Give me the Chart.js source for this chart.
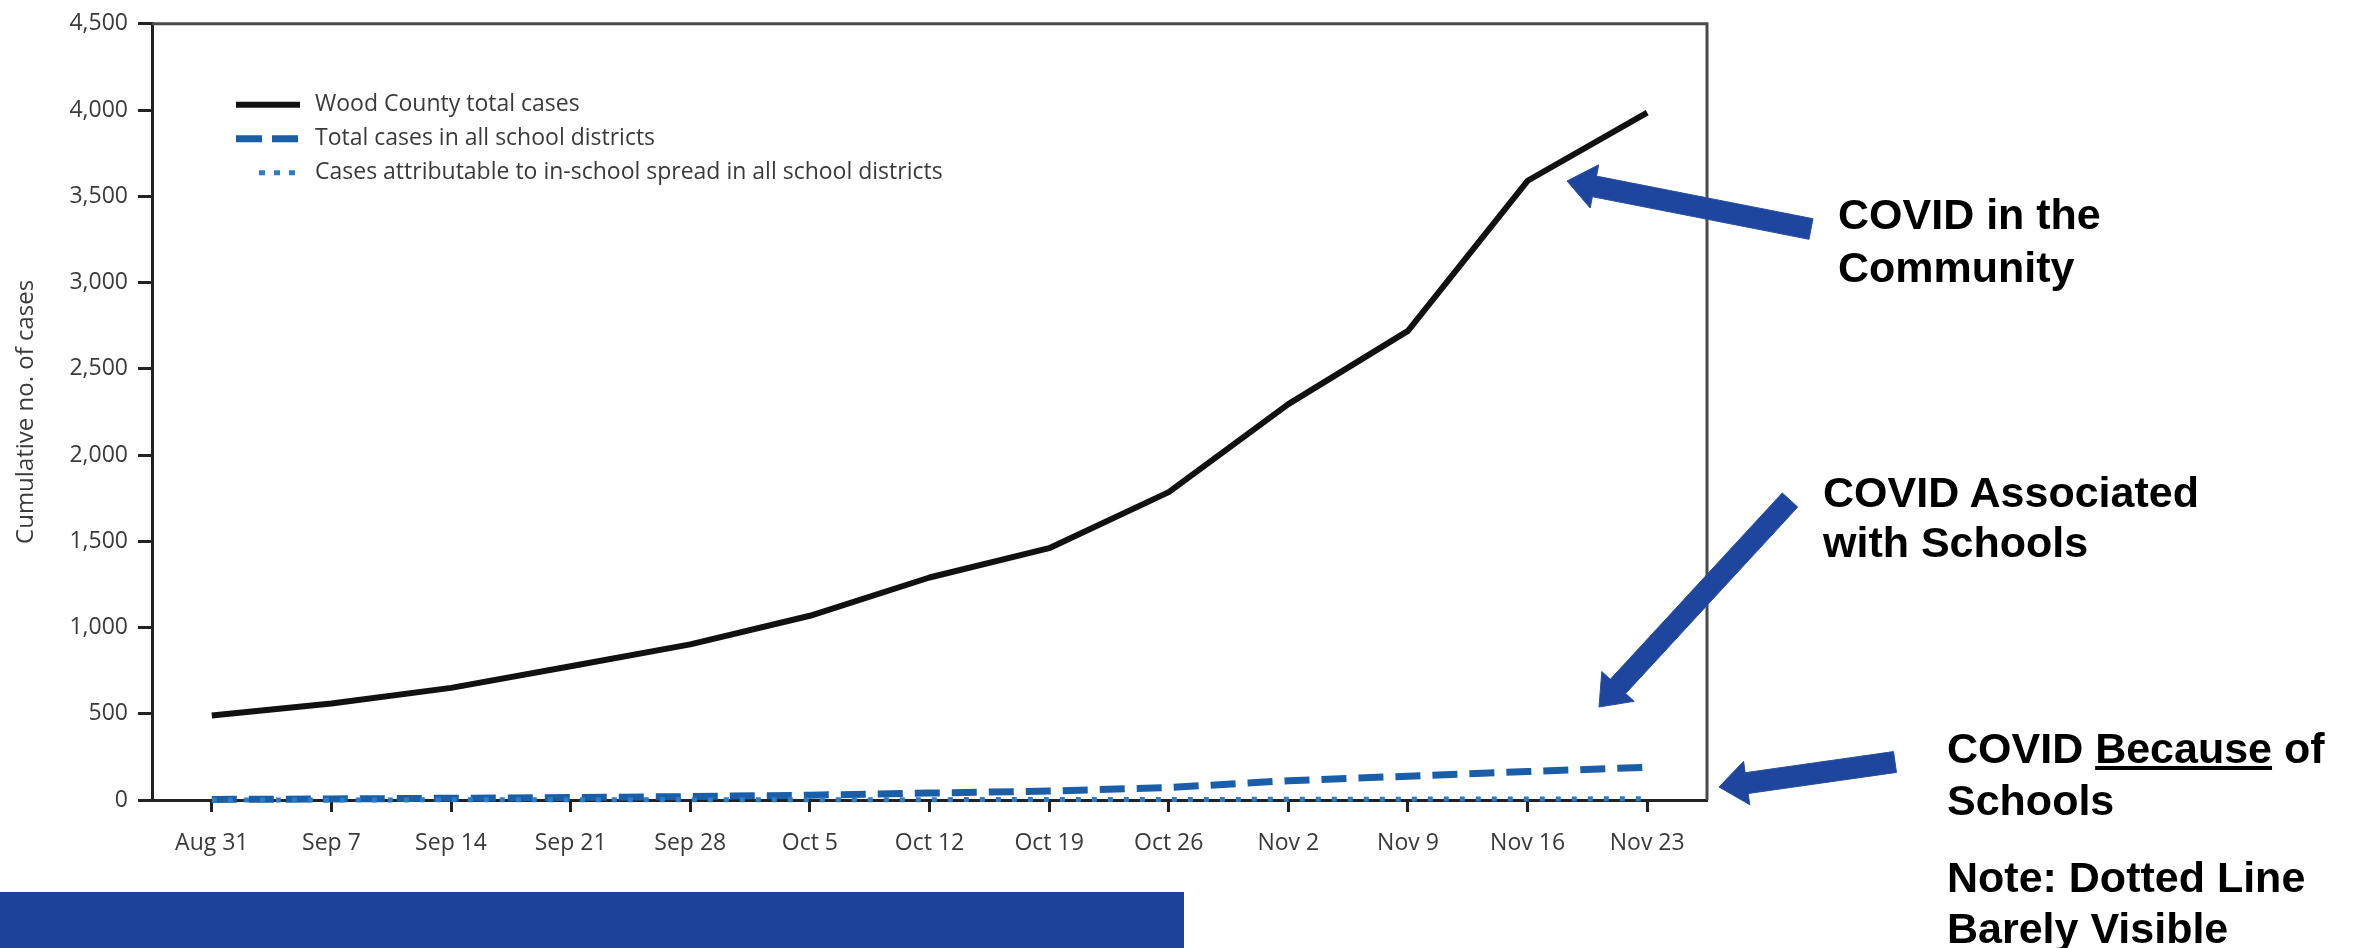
<!DOCTYPE html>
<html>
<head>
<meta charset="utf-8">
<title>Wood County cumulative cases</title>
<script src="https://cdn.jsdelivr.net/npm/chart.js@4.4.1/dist/chart.umd.min.js"></script>
<style>
  html, body { margin: 0; padding: 0; background: #fff; }
  #page { position: relative; width: 2362px; height: 948px; overflow: hidden; }
  #chartBox { position: absolute; left: 0; top: 0; width: 1760px; height: 948px; }
  #arrows { position: absolute; left: 0; top: 0; }
  .note { position: absolute; font-family: "Liberation Sans", Arial, sans-serif; font-weight: bold;
          font-size: 43px; line-height: 50px; color: #000; white-space: nowrap; }
  #banner { position: absolute; left: 0; top: 892px; width: 1184px; height: 56px; background: #1c4399; }
</style>
</head>
<body>
<div id="page">
  <div id="chartBox"><canvas id="chart"></canvas></div>
  <svg id="arrows" width="2362" height="948"></svg>
  <div class="note" style="left:1838px; top:189px;">COVID in the</div>
  <div class="note" style="left:1838px; top:242px;">Community</div>
  <div class="note" style="left:1823px; top:467px;">COVID Associated</div>
  <div class="note" style="left:1823px; top:517px;">with Schools</div>
  <div class="note" style="left:1947px; top:723px;">COVID <u>Because</u> of</div>
  <div class="note" style="left:1947px; top:775px;">Schools</div>
  <div class="note" style="left:1947px; top:852px;">Note: Dotted Line</div>
  <div class="note" style="left:1947px; top:903px;">Barely Visible</div>
  <div id="banner"></div>
</div>
<script>
// weekly dates (x axis)
const weeks = ['Aug 31', 'Sep 7', 'Sep 14', 'Sep 21', 'Sep 28', 'Oct 5', 'Oct 12',
               'Oct 19', 'Oct 26', 'Nov 2', 'Nov 9', 'Nov 16', 'Nov 23'];

// cumulative cases
const countyTotal = [490, 560, 650, 775, 902, 1068, 1290, 1460, 1785, 2295, 2720, 3590, 3985];
const schoolTotal = [3, 6, 10, 14, 20, 28, 40, 52, 72, 112, 138, 165, 190];
const inSchoolSpread = [0, 0, 1, 1, 1, 2, 2, 3, 3, 4, 5, 6, 7];

const seriesNames = ['Wood County total cases',
                     'Total cases in all school districts',
                     'Cases attributable to in-school spread in all school districts'];

const textGray = '#3a3a3a';
const tickFont = { family: '"Open Sans", sans-serif', size: 23 };

// top + right frame lines of the plot box
const frameLines = {
  id: 'frameLines',
  beforeDatasetsDraw(chart) {
    const { ctx, chartArea: a } = chart;
    ctx.save();
    ctx.strokeStyle = '#4a4a4a';
    ctx.lineWidth = 3;
    ctx.beginPath();
    ctx.moveTo(a.left, a.top);
    ctx.lineTo(a.right, a.top);
    ctx.lineTo(a.right, a.bottom);
    ctx.stroke();
    ctx.restore();
  }
};

// legend drawn inside the plot, upper left
const insideLegend = {
  id: 'insideLegend',
  afterDatasetsDraw(chart) {
    const { ctx, chartArea: a } = chart;
    const x0 = a.left + 84, x1 = a.left + 148;
    const rowY = [a.top + 81, a.top + 115, a.top + 149];
    ctx.save();
    chart.data.datasets.forEach((ds, i) => {
      const y = rowY[i];
      ctx.strokeStyle = ds.borderColor;
      ctx.lineWidth = ds.borderWidth;
      ctx.setLineDash(ds.legendDash || []);
      ctx.beginPath();
      ctx.moveTo(ds.legendStart ? a.left + ds.legendStart : x0, y);
      ctx.lineTo(x1, y);
      ctx.stroke();
      ctx.setLineDash([]);
      ctx.fillStyle = textGray;
      ctx.font = '23px "Open Sans", sans-serif';
      ctx.textBaseline = 'middle';
      ctx.fillText(ds.label, x1 + 15, y);
    });
    ctx.restore();
  }
};

new Chart(document.getElementById('chart'), {
  type: 'line',
  data: {
    labels: weeks,
    datasets: [
      {
        label: seriesNames[0],
        data: countyTotal,
        borderColor: '#111111',
        borderWidth: 6,
        legendDash: [],
        order: 1
      },
      {
        label: seriesNames[1],
        data: schoolTotal,
        borderColor: '#1b5ea8',
        borderWidth: 7,
        borderDash: [25, 12],
        legendDash: [26, 10],
        order: 2
      },
      {
        label: seriesNames[2],
        data: inSchoolSpread,
        borderColor: '#2b7ccb',
        borderWidth: 5,
        borderDash: [5, 11],
        legendDash: [6, 9],
        legendStart: 107,
        order: 0
      }
    ]
  },
  options: {
    responsive: true,
    maintainAspectRatio: false,
    animation: false,
    layout: { padding: { top: 18, right: 53, bottom: 0, left: 0 } },
    elements: {
      point: { radius: 0 },
      line: { tension: 0, fill: false, borderCapStyle: 'butt', borderJoinStyle: 'round' }
    },
    datasets: { line: { clip: false } },
    plugins: {
      legend: { display: false },
      tooltip: { enabled: false }
    },
    scales: {
      x: {
        offset: true,
        afterFit(scale) { scale.height = 148; },
        grid: {
          offset: false,
          drawOnChartArea: false,
          drawTicks: true,
          tickLength: 12,
          tickWidth: 3,
          tickColor: '#222'
        },
        border: { color: '#222', width: 3 },
        ticks: {
          color: textGray,
          font: tickFont,
          padding: 18,
          autoSkip: false,
          maxRotation: 0
        }
      },
      y: {
        min: 0,
        max: 4500,
        afterFit(scale) { scale.width = 152; },
        grid: {
          drawOnChartArea: false,
          drawTicks: true,
          tickLength: 14,
          tickWidth: 3,
          tickColor: '#222'
        },
        border: { color: '#222', width: 3 },
        ticks: {
          stepSize: 500,
          color: textGray,
          font: tickFont,
          padding: 10,
          callback: v => v.toLocaleString('en-US')
        },
        title: {
          display: true,
          text: 'Cumulative no. of cases',
          color: textGray,
          font: { family: '"Open Sans", sans-serif', size: 24 },
          padding: { top: 12, bottom: 0 }
        }
      }
    }
  },
  plugins: [frameLines, insideLegend]
});

// callout arrows (annotation, not data)
function arrowPoints(tail, tip, shaftW, headW, headL) {
  const dx = tip[0] - tail[0], dy = tip[1] - tail[1];
  const len = Math.hypot(dx, dy);
  const ux = dx / len, uy = dy / len;
  const px = -uy, py = ux;
  const bx = tip[0] - ux * headL, by = tip[1] - uy * headL;
  const pts = [
    [tail[0] + px * shaftW / 2, tail[1] + py * shaftW / 2],
    [bx + px * shaftW / 2, by + py * shaftW / 2],
    [bx + px * headW / 2, by + py * headW / 2],
    tip,
    [bx - px * headW / 2, by - py * headW / 2],
    [bx - px * shaftW / 2, by - py * shaftW / 2],
    [tail[0] - px * shaftW / 2, tail[1] - py * shaftW / 2]
  ];
  return pts.map(p => p[0].toFixed(1) + ',' + p[1].toFixed(1)).join(' ');
}

const svg = document.getElementById('arrows');
[
  [[1811, 229], [1567, 181]],
  [[1790, 500], [1599, 707]],
  [[1895, 762], [1719, 787]]
].forEach(([tail, tip]) => {
  const poly = document.createElementNS('http://www.w3.org/2000/svg', 'polygon');
  poly.setAttribute('points', arrowPoints(tail, tip, 21, 44, 28));
  poly.setAttribute('fill', '#1f469e');
  poly.setAttribute('stroke', '#2a4f9c');
  poly.setAttribute('stroke-width', '1');
  svg.appendChild(poly);
});
</script>
</body>
</html>
